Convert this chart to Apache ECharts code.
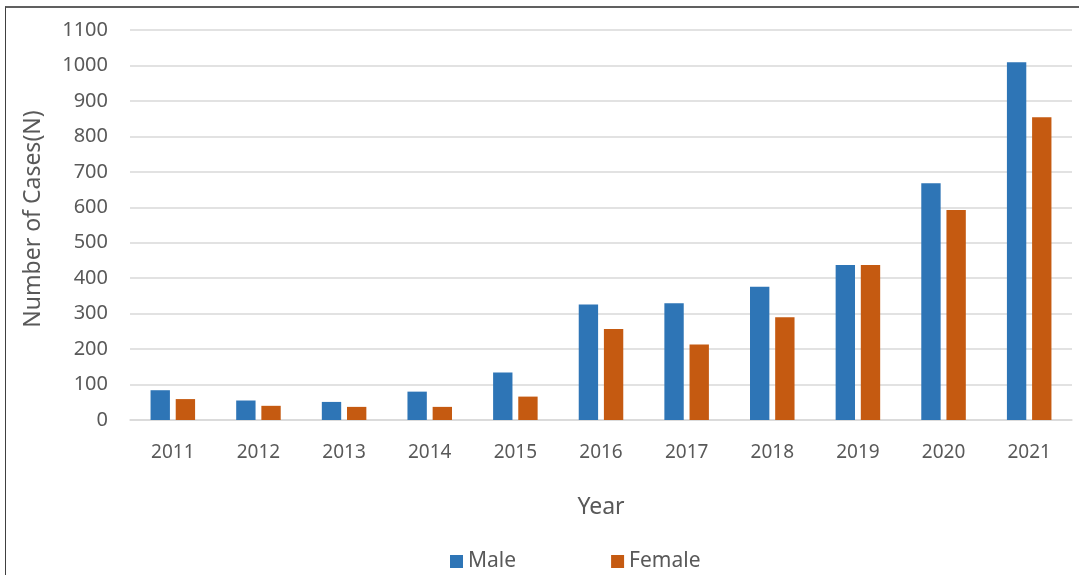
<!DOCTYPE html>
<html>
<head>
<meta charset="utf-8">
<script src="https://cdn.jsdelivr.net/npm/echarts@6/dist/echarts.min.js"></script>
<style>
  html, body { margin: 0; padding: 0; background: #fff; }
  #wrap { position: absolute; left: 0; top: 0; width: 1079px; height: 575px; }
  #frame { position: absolute; left: 5px; top: 6px; right: -2px; bottom: -2px; border-left: 1px solid #404040; border-top: 2px solid #606060; }
  #chart { position: absolute; left: 0; top: 0; width: 1079px; height: 575px; }
</style>
</head>
<body>
<div id="wrap">
  <div id="frame"></div>
  <div id="chart"></div>
</div>
<script>
// Data
const years = ['2011', '2012', '2013', '2014', '2015', '2016', '2017', '2018', '2019', '2020', '2021'];
const male = [84, 55, 51, 80, 134, 326, 329, 376, 437, 668, 1009];
const female = [59, 40, 37, 37, 66, 257, 213, 290, 437, 592, 854];

const textColor = '#595959';
const font = 'Noto Sans';

const chart = echarts.init(document.getElementById('chart'));
chart.setOption({
    animation: false,
    textStyle: { fontFamily: font },
    grid: { left: 130, right: 7, top: 30, bottom: 155 },
    legend: {
        data: ['Male', 'Female'],
        left: 445, top: 546,
        itemWidth: 13, itemHeight: 13, itemGap: 95,
        icon: 'rect',
        textStyle: { fontFamily: font, fontSize: 21, color: textColor }
    },
    xAxis: {
        type: 'category',
        data: years,
        name: 'Year',
        nameLocation: 'middle',
        nameGap: 76,
        nameTextStyle: { fontFamily: font, fontSize: 23, color: textColor },
        axisLine: { lineStyle: { color: '#d9d9d9', width: 1.5 } },
        axisTick: { show: false },
        axisLabel: { fontFamily: font, fontSize: 19, color: textColor, margin: 23 }
    },
    yAxis: {
        type: 'value',
        min: 0, max: 1100, interval: 100,
        name: 'Number of Cases(N)',
        nameLocation: 'middle',
        nameRotate: 90,
        nameGap: 85,
        nameTextStyle: { fontFamily: font, fontSize: 23, color: textColor, padding: [0, 0, 0, 12] },
        axisLine: { show: false },
        axisTick: { show: false },
        axisLabel: { fontFamily: font, fontSize: 20, color: textColor, margin: 22, formatter: v => String(v) },
        splitLine: { lineStyle: { color: '#d9d9d9', width: 1.5 } }
    },
    series: [
        { name: 'Male', type: 'bar', data: male, barGap: '30%', barCategoryGap: '48%',
          itemStyle: { color: '#2E75B6' } },
        { name: 'Female', type: 'bar', data: female,
          itemStyle: { color: '#C55A11' } }
    ]
});
</script>
</body>
</html>
